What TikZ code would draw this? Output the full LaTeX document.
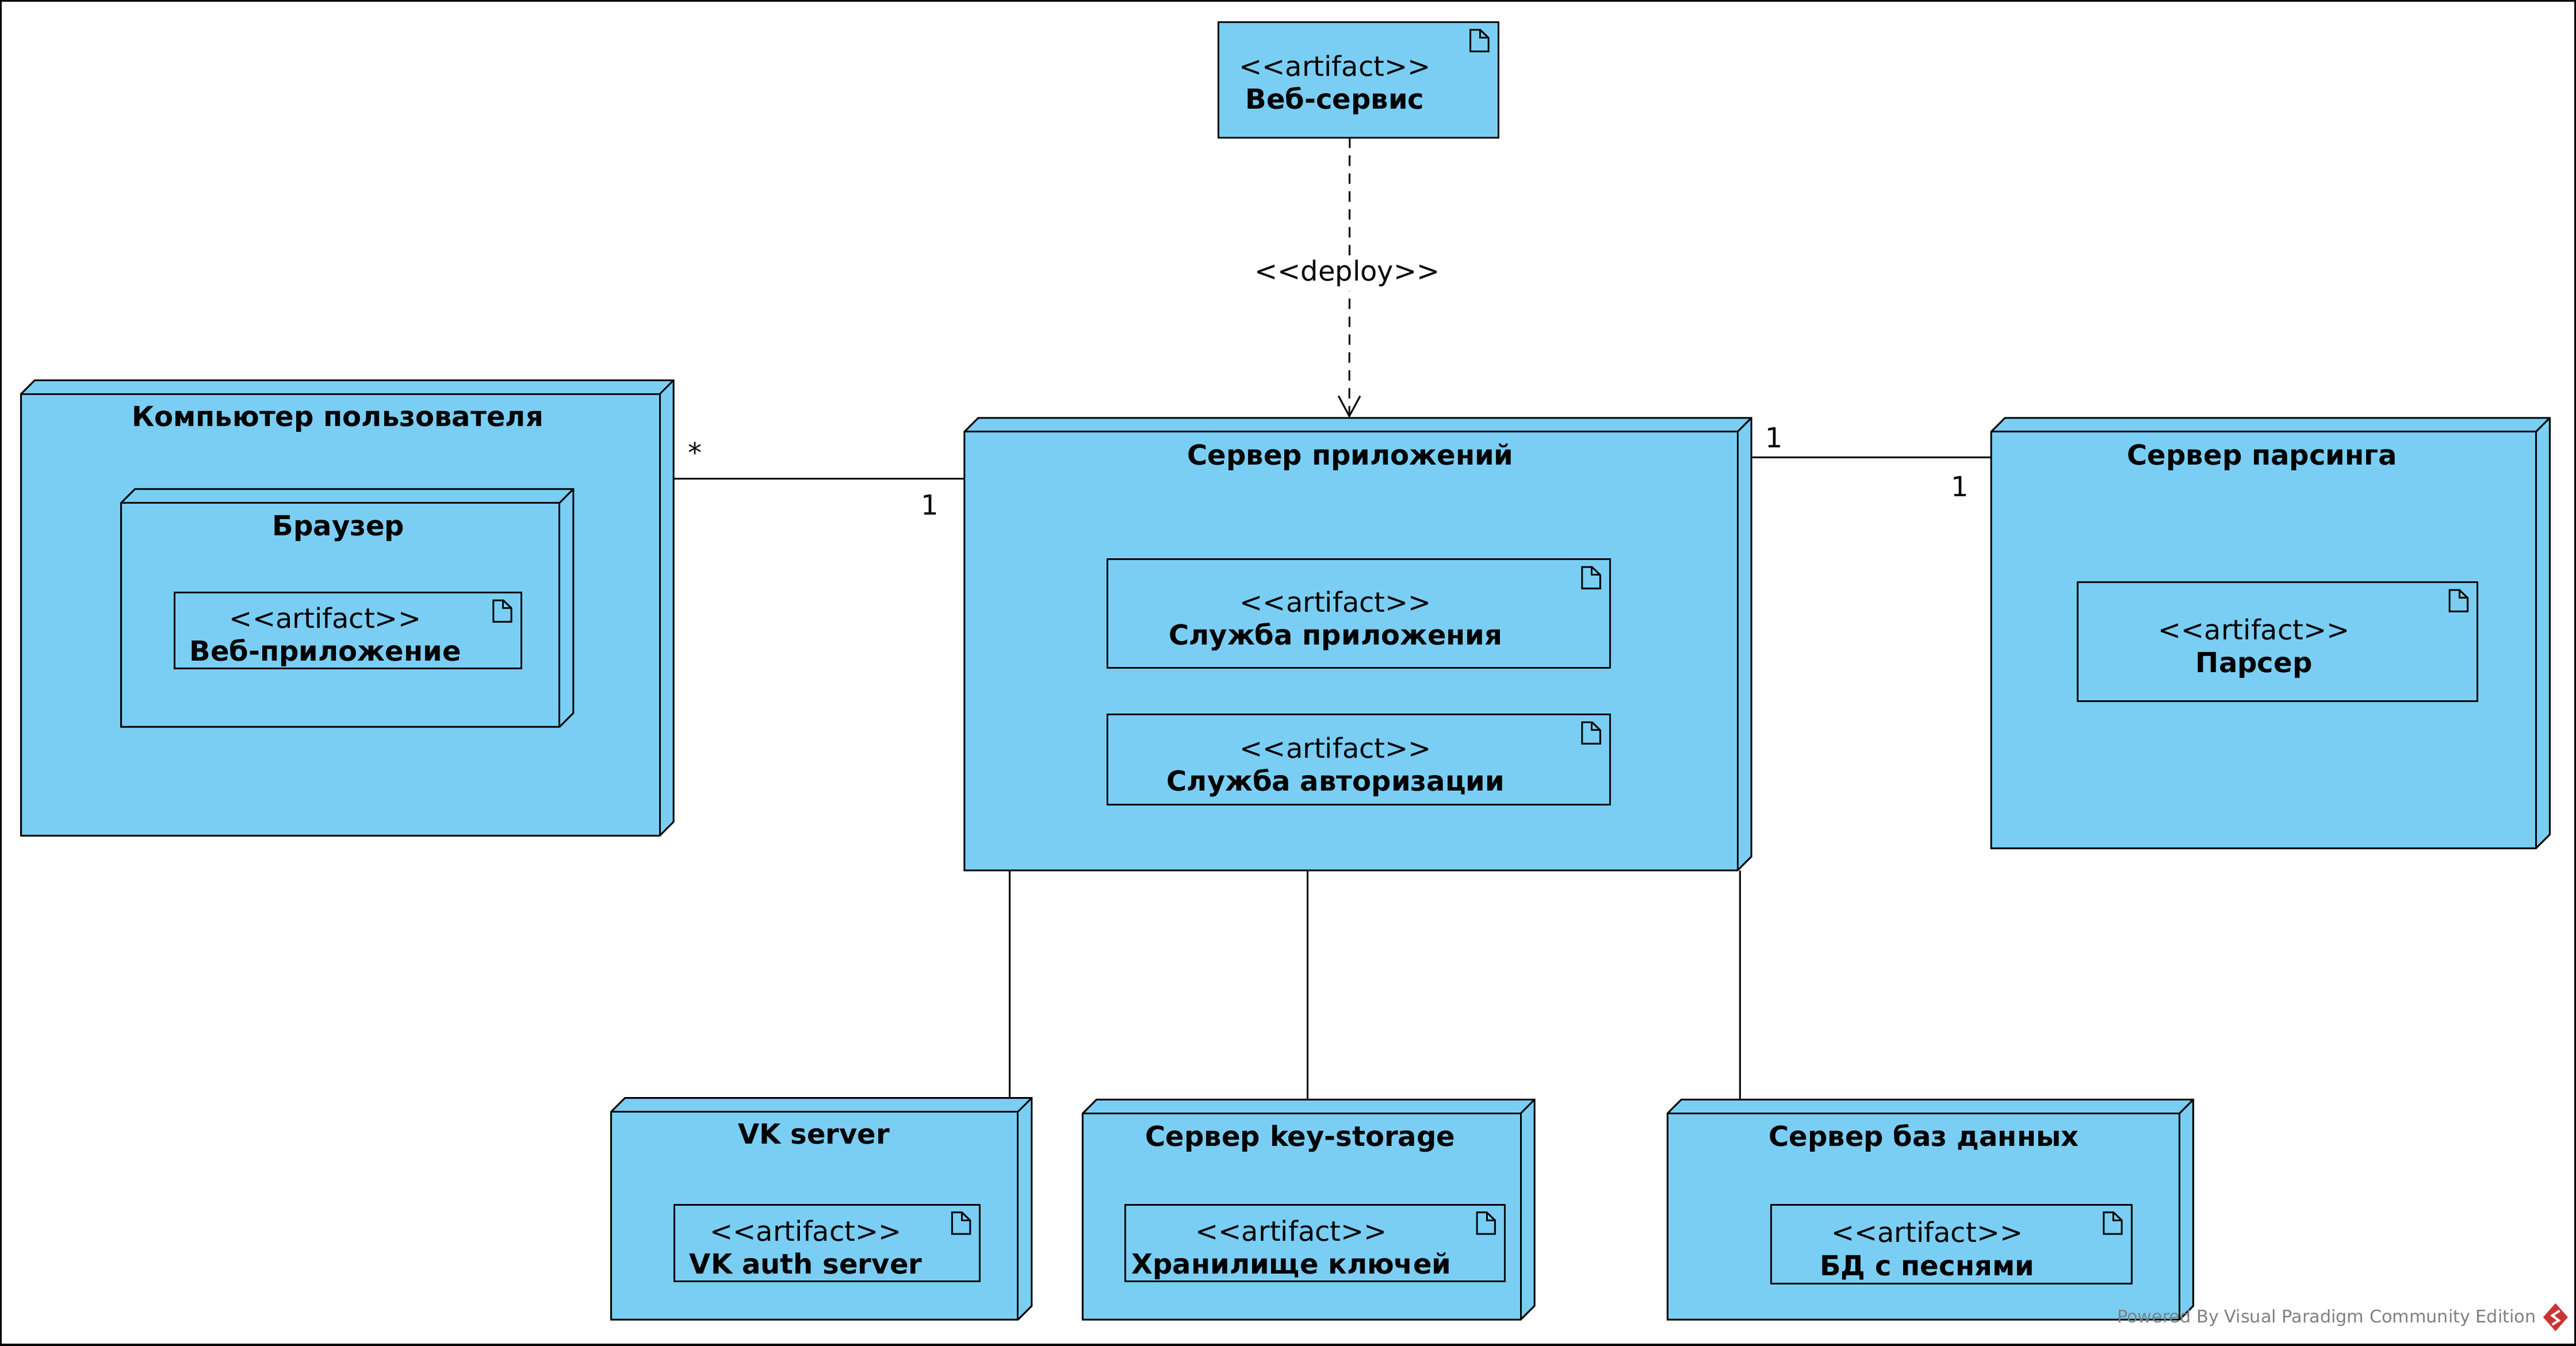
\documentclass[tikz,border=0pt]{standalone}
\usepackage{fontspec}
\setmainfont{DejaVu Sans}
\usetikzlibrary{arrows.meta}
\definecolor{nodeblue}{HTML}{7ACEF4}
\definecolor{vpred}{HTML}{CC3333}
\newcommand{\stereo}[1]{<{}<#1>{}>}
\tikzset{
  hull/.style={inner sep=0pt,outer sep=0pt},
  line/.style={line width=0.6pt,line join=miter},
  face/.style={line,draw=black,fill=nodeblue},
  nametext/.style={anchor=base,inner sep=0pt,font=\fontsize{9.58}{11}\selectfont\bfseries},
  stereotext/.style={anchor=base,inner sep=0pt,font=\fontsize{9.55}{11}\selectfont},
  mult/.style={inner sep=0pt,font=\fontsize{9.55}{11}\selectfont},
  deploytip/.style={-{Straight Barb[length=7pt,width=7.5pt,line width=0.6pt]}}
}
\begin{document}
\begin{tikzpicture}[x=0.02cm,y=-0.02cm]
\useasboundingbox (0,-0.5) rectangle (1568,818.7);
\draw[line,line width=0.9pt] (0.4,-0.1) rectangle (1567.6,818.3);
\foreach \name/\xa/\ya/\xb/\yb/\title/\tx/\ty in {
  comp/12.8/231/410/508.3/Компьютер пользователя/205.5/259,
  browser/73.7/297.3/349/442/Браузер/206/325.5,
  app/587/254/1066/529.5/Сервер приложений/822/282.5,
  parse/1212/254/1552/516/Сервер парсинга/1377/282.5,
  vk/372/668/628/803/VK server/495.5/696,
  keys/659/669/934/803/Сервер key-storage/791.5/697.5,
  db/1015/669/1335/803/Сервер баз данных/1171/697.5} {
  \node[hull,minimum width={(\xb-\xa)*0.02cm},minimum height={(\yb-\ya)*0.02cm}] (\name) at ({(\xa+\xb)/2},{(\ya+\yb)/2}) {};
  \draw[face] ([shift={(8.4,0)}]\name.north west) -- (\name.north east) -- ([shift={(0,-8.4)}]\name.south east) -- ([shift={(-8.4,0)}]\name.south east) -- (\name.south west) -- ([shift={(0,8.4)}]\name.north west) -- cycle;
  \draw[line] ([shift={(0,8.4)}]\name.north west) -- ([shift={(-8.4,8.4)}]\name.north east) -- ([shift={(-8.4,0)}]\name.south east);
  \draw[line] ([shift={(-8.4,8.4)}]\name.north east) -- (\name.north east);
  \node[nametext] (\name title) at (\tx,\ty) {\title};
}
\foreach \name/\xa/\ya/\xb/\yb/\title/\tx/\ty in {
  service/741.5/13/912/83.3/Веб-сервис/812.5/46,
  webapp/106.2/360.3/317.3/406.5/Веб-приложение/198/382,
  appsvc/674/340/980/406/Служба приложения/813/372,
  authsvc/674/434.5/980/489.5/Служба авторизации/813/461,
  parser/1264.5/354/1508/426.5/Парсер/1372/389,
  vkauth/410.5/733/596.5/779.5/VK auth server/490.5/755,
  keystore/685/733/916/779.5/Хранилище ключей/786/755,
  songs/1078/733/1297.5/781/БД с песнями/1173/756} {
  \node[hull,face,minimum width={(\xb-\xa)*0.02cm},minimum height={(\yb-\ya)*0.02cm}] (\name) at ({(\xa+\xb)/2},{(\ya+\yb)/2}) {};
  \draw[line,shift={(\name.north east)}] (-17,4.7) -- (-11,4.7) -- (-6,9.5) -- (-6,17.8) -- (-17,17.8) -- cycle;
  \draw[line,shift={(\name.north east)}] (-11,4.7) -- (-11,9.5) -- (-6,9.5);
  \node[stereotext] (\name kind) at (\tx,\ty) {\stereo{artifact}};
  \node[nametext] (\name title) at (\tx,\ty+20) {\title};
}
\draw[line,deploytip,dash pattern=on 3.6pt off 2.6pt] ([xshift=-5.2*0.02cm]service.south) -- ([xshift=-5.2*0.02cm]app.north);
\node[mult,fill=white,minimum height=0.42cm] (deploy) at (820,166) {\stereo{deploy}};
\draw[line] ([shift={(0,60)}]comp.north east) -- ([shift={(0,37)}]app.north west);
\draw[line] ([shift={(0,24)}]app.north east) -- ([shift={(0,24)}]parse.north west);
\draw[line] ([shift={(27.5,0)}]app.south west) -- ([shift={(242.5,0)}]vk.north west);
\draw[line] ([shift={(209,0)}]app.south west) -- ([shift={(137,0)}]keys.north west);
\draw[line] ([shift={(472,0)}]app.south west) -- ([shift={(44,0)}]db.north west);
\node[mult] (compstar) at (423,275) {*};
\node[mult] (appone) at (566,307) {1};
\node[mult] (apponeb) at (1080,266) {1};
\node[mult] (parseone) at (1193,295.5) {1};
\node[anchor=east,inner sep=0pt,text=black!50,font=\fontsize{6.03}{8}\selectfont] (powered) at (1544,802) {Powered By Visual Paradigm Community Edition};
\fill[vpred] (1555.5,793) -- (1563,801.5) -- (1555.5,810) -- (1548,801.5) -- cycle;
\draw[white,line width=0.8pt] (1558,797.5) -- (1553.5,800.5) -- (1557.5,803.5) -- (1553.5,806);
\end{tikzpicture}
\end{document}
